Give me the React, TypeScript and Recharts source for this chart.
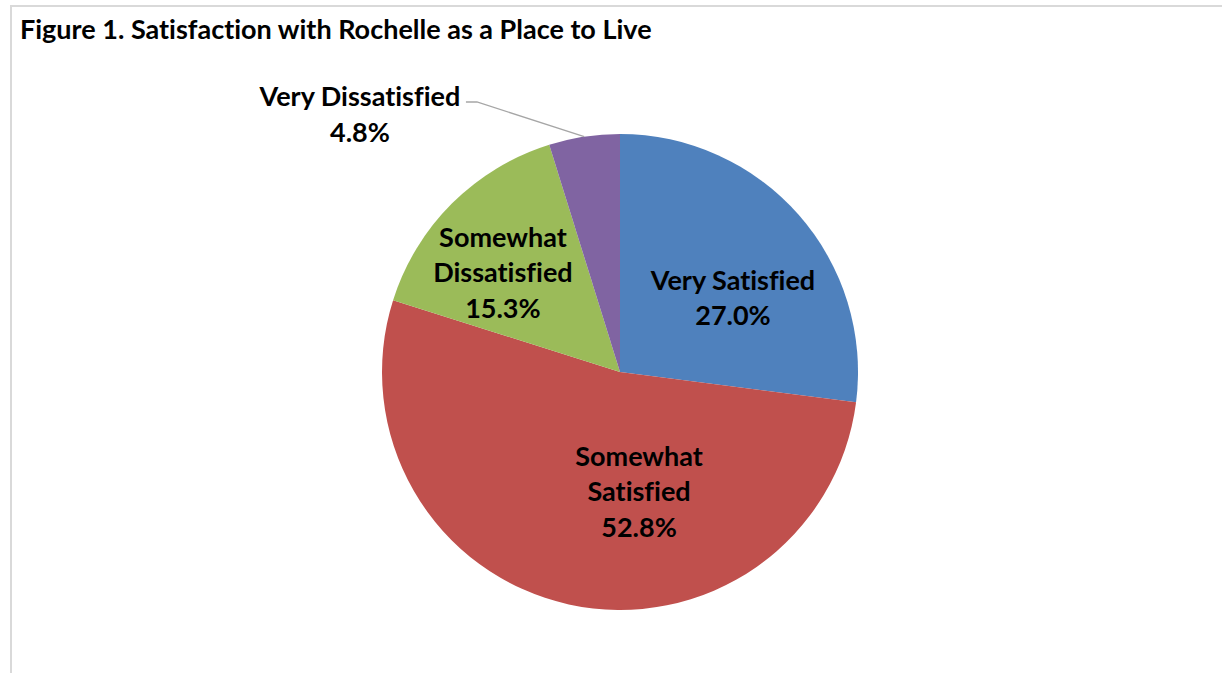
import { Pie, PieChart, Cell } from "recharts";

const categories = ["Very Satisfied", "Somewhat Satisfied", "Somewhat Dissatisfied", "Very Dissatisfied"];
const labelLines = [["Very Satisfied"], ["Somewhat", "Satisfied"], ["Somewhat", "Dissatisfied"], ["Very Dissatisfied"]];
const shares = [27.0, 52.8, 15.3, 4.8];
const colors = ["#4F81BD", "#C0504D", "#9BBB59", "#8064A2"];

// where each label sits, in polar terms relative to the pie (angle in degrees, distance as fraction of radius)
const labelPlace = [
  { angle: 33.6, dist: 0.57 },
  { angle: -80.9, dist: 0.506 },
  { angle: 139.5, dist: 0.647 },
  { angle: 135.2, dist: 1.54 },
];

const data = categories.map((c, i) => ({ name: c, value: shares[i] }));

const RAD = Math.PI / 180;
const FONT = "Lato, 'Open Sans', sans-serif";

function renderLabel(props: any) {
  const { cx, cy, outerRadius, midAngle, index } = props;
  const p = labelPlace[index];
  const x = cx + outerRadius * p.dist * Math.cos(p.angle * RAD);
  const y = cy - outerRadius * p.dist * Math.sin(p.angle * RAD);
  const lines = [...labelLines[index], shares[index].toFixed(1) + "%"];
  const lh = 35.5;
  const top = y - ((lines.length - 1) * lh) / 2;
  let leader = null;
  if (index === 3) {
    const ex = cx + outerRadius * Math.cos(midAngle * RAD);
    const ey = cy - outerRadius * Math.sin(midAngle * RAD);
    const ty = top + 6;
    leader = (
      <polyline
        points={`${x + 106},${ty} ${x + 117},${ty} ${ex},${ey}`}
        fill="none"
        stroke="#A6A6A6"
        strokeWidth={1.3}
      />
    );
  }
  return (
    <g key={"lbl" + index}>
      {leader}
      {lines.map((t, k) => (
        <text
          key={k}
          x={x}
          y={top + k * lh}
          textAnchor="middle"
          dominantBaseline="central"
          fontFamily={FONT}
          fontWeight={700}
          fontSize={27}
          fill="#000"
          style={{ fontVariantLigatures: "none" }}
        >
          {t}
        </text>
      ))}
    </g>
  );
}

export default function App() {
  return (
    <div style={{ position: "absolute", left: 0, top: 0, width: 1222, height: 673, background: "#fff" }}>
      <div
        style={{
          position: "absolute",
          left: 10,
          top: 5,
          width: 1212,
          height: 668,
          borderTop: "2px solid #D9D9D9",
          borderLeft: "2px solid #D9D9D9",
          boxSizing: "border-box",
        }}
      />
      <div
        style={{
          position: "absolute",
          left: 20,
          top: 12,
          fontFamily: FONT,
          fontWeight: 700,
          fontSize: 27,
          lineHeight: "34px",
          color: "#000",
          whiteSpace: "nowrap",
          fontVariantLigatures: "none",
        }}
      >
        Figure 1. Satisfaction with Rochelle as a Place to Live
      </div>
      <div style={{ position: "absolute", left: 0, top: 0 }}>
        <PieChart width={1222} height={673} margin={{ top: 0, right: 0, bottom: 0, left: 0 }}>
          <Pie
            data={data}
            dataKey="value"
            nameKey="name"
            cx={620}
            cy={372}
            outerRadius={238}
            startAngle={90}
            endAngle={-270}
            stroke="none"
            isAnimationActive={false}
            labelLine={false}
            label={renderLabel}
          >
            {data.map((d, i) => (
              <Cell key={d.name} fill={colors[i]} />
            ))}
          </Pie>
        </PieChart>
      </div>
    </div>
  );
}
